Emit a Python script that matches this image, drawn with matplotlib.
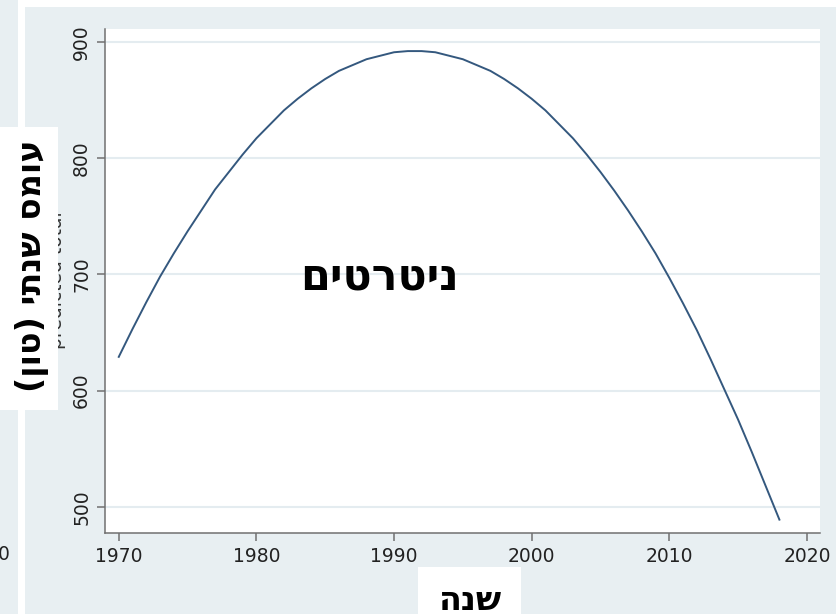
import matplotlib
matplotlib.use("Agg")
import matplotlib.pyplot as plt
from matplotlib.patches import Rectangle

# values (predicted annual load, tons)
years = list(range(1970, 2019))
predicted = [629, 653, 676, 698, 718, 737, 755, 773, 788, 803,
             817, 829, 841, 851, 860, 868, 875, 880, 885, 888,
             891, 892, 892, 891, 888, 885, 880, 875, 868, 860,
             851, 841, 829, 817, 803, 788, 772, 755, 737, 718,
             697, 675, 652, 627, 601, 575, 547, 518, 489]
x_ticks = [1970, 1980, 1990, 2000, 2010, 2020]
y_ticks = [500, 600, 700, 800, 900]

chart_title = "ניטרטים"
y_title = "עומס שנתי (טון)"
x_title = "שנה"
old_y_title = "predicted total"

W, H = 836, 616
panel = "#e8eff2"
heb_font = ["DejaVu Sans"]


def rtl(s):
    # matplotlib has no bidi support: reverse and mirror brackets
    s = s[::-1]
    return s.translate(str.maketrans("()", ")("))


def box(x0, y0, x1, y1, color, z):
    fig.patches.append(Rectangle((x0 / W, 1 - y1 / H), (x1 - x0) / W, (y1 - y0) / H,
                                 transform=fig.transFigure, facecolor=color,
                                 edgecolor="none", zorder=z))


fig = plt.figure(figsize=(W / 100, H / 100), dpi=100)
fig.patch.set_facecolor("white")

# background panels
box(25, 7, 836, 614, panel, -2)
box(0, 0, 18, 614, panel, -2)

ax = fig.add_axes([105 / W, 1 - 533 / H, (820 - 105) / W, (533 - 29) / H])
ax.set_facecolor("white")
ax.plot(years, predicted, color="#34587e", lw=1.4)

ax.set_xlim(1969, 2020.95)
ax.set_ylim(477.5, 911)
ax.set_xticks(x_ticks)
ax.set_yticks(y_ticks)
ax.set_yticklabels([str(v) for v in y_ticks], rotation=90, va="center")
ax.grid(axis="y", color="#e4ecf0", lw=1.5)
ax.set_axisbelow(True)
for side in ["top", "right"]:
    ax.spines[side].set_visible(False)
for side in ["left", "bottom"]:
    ax.spines[side].set_color("#707070")
    ax.spines[side].set_linewidth(1.1)
ax.tick_params(direction="out", length=6, width=1.1, color="#707070",
               labelsize=13.5, labelcolor="#222222", pad=4)

# leftover pieces of the original slide
fig.text(57 / W, 1 - 280 / H, old_y_title, rotation=90, ha="center", va="center",
         fontsize=13.5, color="#333333", zorder=2)
fig.text(9.5 / W, 1 - 555 / H, "0", ha="right", va="center", fontsize=13.5, color="#222222")

# white cover boxes with the Hebrew titles
box(0, 127, 58, 410, "white", 4)
box(418, 567, 521, 616, "white", 4)

fig.text(32 / W, 1 - 266 / H, rtl(y_title), rotation=90, ha="center", va="center",
         fontsize=24, fontweight="bold", family=heb_font, zorder=5)
fig.text(470 / W, 1 - 600 / H, rtl(x_title), ha="center", va="center",
         fontsize=24, fontweight="bold", family=heb_font, zorder=5)
fig.text(380 / W, 1 - 278 / H, rtl(chart_title), ha="center", va="center",
         fontsize=31, fontweight="bold", family=heb_font, zorder=5)

fig.savefig("out.png", dpi=100)
